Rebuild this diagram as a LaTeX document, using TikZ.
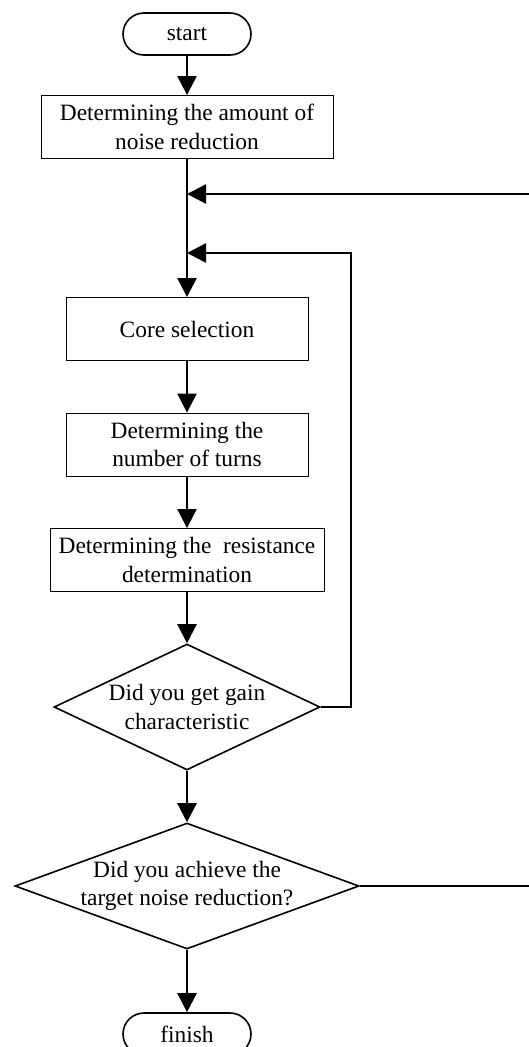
\documentclass[tikz,border=0pt]{standalone}
\usepackage{fontspec}
\setmainfont{Liberation Serif}
\usetikzlibrary{arrows.meta}
\usetikzlibrary{shapes.geometric}

\begin{document}
\begin{tikzpicture}[x=1pt, y=-1pt, line cap=butt, line join=miter,
		>={Triangle[length=19pt, width=19pt]},
		font=\fontsize{23.4}{28.5}\selectfont,
		flow/.style={->, line width=2.4pt},
		terminal/.style={draw, line width=1.6pt, rounded corners=21pt, minimum width=128pt, minimum height=42pt, inner sep=0pt},
		process/.style={draw, line width=0.9pt, align=center, minimum height=63pt, inner sep=0pt},
		decision/.style={draw, diamond, line width=1.6pt, align=center, inner xsep=-70pt, inner ysep=-27pt, aspect=1}]
			\useasboundingbox (0,0) rectangle (529,1047);
			% terminals
			\node[terminal] (start) at (187,34) {start};
			\node[terminal] (finish) at (187,1034) {finish};
			% steps
			\node[process, minimum width=292pt] (amount) at (187,127) {Determining the amount of\\noise reduction};
			\node[process, minimum width=242pt] (core) at (187,329) {Core selection};
			\node[process, minimum width=242pt] (turns) at (187,444.5) {Determining the\\number of turns};
			\node[process, minimum width=274pt] (resist) at (187,560) {Determining the~ resistance\\determination};
			% questions
			\node[decision, minimum width=266pt, minimum height=126pt] (gain) at (187,707) {Did you get gain\\characteristic};
			\node[decision, minimum width=344pt, minimum height=126pt] (achieve) at (187,886) {Did you achieve the\\target noise reduction?};
			% joins
			\coordinate (j1) at (187,194);
			\coordinate (j2) at (187,253);
			\coordinate (outer in) at (529,194);
			\coordinate (outer out) at (529,886);
			% main path
			\draw[flow] (start) -- (amount);
			\draw[flow] (amount) -- (core);
			\draw[flow] (core) -- (turns);
			\draw[flow] (turns) -- (resist);
			\draw[flow] (resist) -- (gain);
			\draw[flow] (gain) -- (achieve);
			\draw[flow] (achieve) -- (finish);
			% loops
			\draw[flow] (gain.east) -- ++(30,0) |- (j2);
			\draw[flow] (outer in) -- (j1);
			\draw[line width=2.4pt] (achieve.east) -- (outer out);
		\end{tikzpicture}
\end{document}
